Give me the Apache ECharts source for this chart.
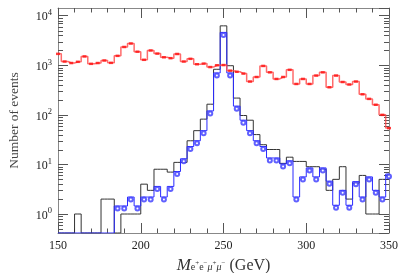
<!DOCTYPE html>
<html><head><meta charset="utf-8">
<script src="https://cdn.jsdelivr.net/npm/echarts@6/dist/echarts.min.js"></script>
<style>html,body{margin:0;padding:0;background:#fff}#c{width:399px;height:273px}</style>
</head><body><div id="c"></div>
<script>
// bin centres (GeV), 4 GeV bins
const binCenters = [150,154,158,162,166,170,174,178,182,186,190,194,198,202,206,210,214,218,222,226,230,234,238,242,246,250,254,258,262,266,270,274,278,282,286,290,294,298,302,306,310,314,318,322,326,330,334,338,342,346,350];
// red (background) histogram
const redCounts = [1700,1190,1110,1175,1510,1070,1110,1250,1120,1550,2340,2750,1880,1290,1990,1720,1450,1390,1690,1190,1350,1050,1080,920,1000,1010,780,740,680,470,580,970,720,530,580,810,420,530,420,620,720,360,620,460,410,470,260,210,160,100,54];
// black histogram
const blackCounts = [0,0,0,1,0,0,0,2,2,0,1,1,1,4,3,8,8,7,11,11,30,48,82,164,830,6240,980,218,97,78,40,25,20,20,10.5,14,11.5,11.5,9,9,8,3,5,9,2,4.2,6,1,1,5,5];
// blue histogram (circles)
const blueCounts = [0,0,0,0,0,0,0,0,0,1.45,1.45,2.2,1.45,2.2,2.2,3.6,2.2,3.6,7.2,13,23,30,48,120,700,4600,700,150,78,48,30,23,13.5,13.5,10.2,11.8,2.2,5.6,8.5,5.6,8.5,4.6,1.5,3.0,1.5,4.5,2.2,5.6,3.0,2.2,6.4];
// axis ticks
const xTickLabels = [150,200,250,300,350];
const yMinorTickValues = [0.5,0.6,0.7,0.8,0.9,2,3,4,5,6,7,8,9,20,30,40,50,60,70,80,90,200,300,400,500,600,700,800,900,2000,3000,4000,5000,6000,7000,8000,9000];

const XMIN = 150, XMAX = 350, YMIN = 0.414, YMAX = 14300;
const SERIF = "'Liberation Serif','DejaVu Serif',serif";
const TICK = '#555', FRAME = '#888';

const floorZero = v => (v > 0 ? v : YMIN);
const pairs = (arr) => binCenters.map((x, i) => [x, floorZero(arr[i])]);

const chart = echarts.init(document.getElementById('c'), null, {renderer: 'canvas'});

const xBase = {
  type: 'value', min: XMIN, max: XMAX, interval: 50,
  axisLine: {show: true, lineStyle: {color: FRAME, width: 1}},
  axisTick: {show: true, inside: true, length: 10, lineStyle: {color: TICK}},
  minorTick: {show: true, splitNumber: 5, length: 4.5, lineStyle: {color: TICK}},
  splitLine: {show: false}, minorSplitLine: {show: false}
};
const yBase = {
  type: 'log', min: YMIN, max: YMAX, logBase: 10,
  axisLine: {show: true, lineStyle: {color: FRAME, width: 1}},
  axisTick: {show: true, inside: true, length: 10, lineStyle: {color: TICK}},
  splitLine: {show: false}
};

chart.setOption({
  animation: false,
  backgroundColor: '#fff',
  grid: {left: 58, right: 10, top: 8, bottom: 40, containLabel: false, outerBoundsMode: 'none'},
  xAxis: [
    Object.assign({}, xBase, {
      position: 'bottom',
      axisLabel: {show: true, margin: 7, fontFamily: SERIF, fontSize: 12, color: '#222',
        formatter: v => (xTickLabels.indexOf(v) >= 0 ? String(v) : '')},
      name: '{M|M}{s|e}{u|+}{s|e}{u|\u2212}{si|\u03bc}{u|+}{si|\u03bc}{u|\u2212}{g| (GeV)}',
      nameLocation: 'middle', nameGap: 14,
      nameTextStyle: {
        color: '#333', fontFamily: SERIF,
        rich: {
          M: {fontSize: 17, fontStyle: 'italic', fontFamily: SERIF, color: '#333', lineHeight: 20, verticalAlign: 'middle'},
          s: {fontSize: 10, fontFamily: SERIF, color: '#333', verticalAlign: 'middle', padding: [4, 0, 0, 0]},
          si: {fontSize: 10, fontStyle: 'italic', fontFamily: SERIF, color: '#333', verticalAlign: 'middle', padding: [4, 0, 0, 0]},
          u: {fontSize: 7, fontFamily: SERIF, color: '#333', verticalAlign: 'middle', padding: [0, 0, 5, 0]},
          g: {fontSize: 16, fontFamily: SERIF, color: '#333', lineHeight: 20, verticalAlign: 'middle'}
        }
      }
    }),
    Object.assign({}, xBase, {position: 'top', axisLabel: {show: false}})
  ],
  yAxis: [
    Object.assign({}, yBase, {
      position: 'left',
      axisLabel: {
        show: true, margin: 6, showMinLabel: false, showMaxLabel: false,
        formatter: v => '{a|10}{b|' + Math.round(Math.log10(v)) + '}',
        rich: {
          a: {fontSize: 12, fontFamily: SERIF, color: '#222', lineHeight: 15, verticalAlign: 'bottom'},
          b: {fontSize: 8.5, fontFamily: SERIF, color: '#222', lineHeight: 9, verticalAlign: 'top'}
        }
      },
      name: 'Number of events', nameLocation: 'middle', nameGap: 37, nameRotate: 90,
      nameTextStyle: {fontFamily: SERIF, fontSize: 13.5, color: '#444'}
    }),
    Object.assign({}, yBase, {position: 'right', axisLabel: {show: false}})
  ],
  series: [
    {
      type: 'custom', coordinateSystem: 'cartesian2d', silent: true, z: 1,
      data: yMinorTickValues.map(v => [XMIN, v]),
      renderItem: function (params, api) {
        const v = api.value(1);
        const l = api.coord([XMIN, v]);
        const r = api.coord([XMAX, v]);
        const y = Math.round(l[1]) + 0.5;
        return {type: 'group', children: [
          {type: 'line', shape: {x1: l[0], y1: y, x2: l[0] + 5, y2: y}, style: {stroke: TICK, lineWidth: 1}},
          {type: 'line', shape: {x1: r[0] - 5, y1: y, x2: r[0], y2: y}, style: {stroke: TICK, lineWidth: 1}}
        ]};
      }
    },
    {
      name: 'black', type: 'line', step: 'middle', data: pairs(blackCounts),
      showSymbol: false, symbol: 'none', clip: true, z: 2,
      lineStyle: {color: '#333', width: 1}
    },
    {
      name: 'blue', type: 'line', step: 'middle', data: pairs(blueCounts),
      showSymbol: false, symbol: 'none', clip: true, z: 3,
      lineStyle: {color: '#2a2aff', width: 1}
    },
    {
      name: 'blueMarks', type: 'scatter',
      data: binCenters.map((x, i) => [x, blueCounts[i]]).filter(p => p[1] > 0),
      symbol: 'emptyCircle', symbolSize: 4, symbolOffset: [0, 2.5], z: 4,
      itemStyle: {color: '#3a3aff', borderColor: '#3a3aff', borderWidth: 0.8}
    },
    {
      name: 'red', type: 'line', step: 'middle', data: pairs(redCounts),
      showSymbol: false, symbol: 'none', clip: true, z: 5,
      lineStyle: {color: 'rgba(255,70,70,0.8)', width: 1.5}
    },
    {
      name: 'redMarks', type: 'scatter',
      data: binCenters.map((x, i) => [x, redCounts[i]]),
      symbol: 'rect', symbolSize: [4, 2.5], z: 6,
      itemStyle: {color: '#ff1010'}
    }
  ]
});
</script>
</body></html>
